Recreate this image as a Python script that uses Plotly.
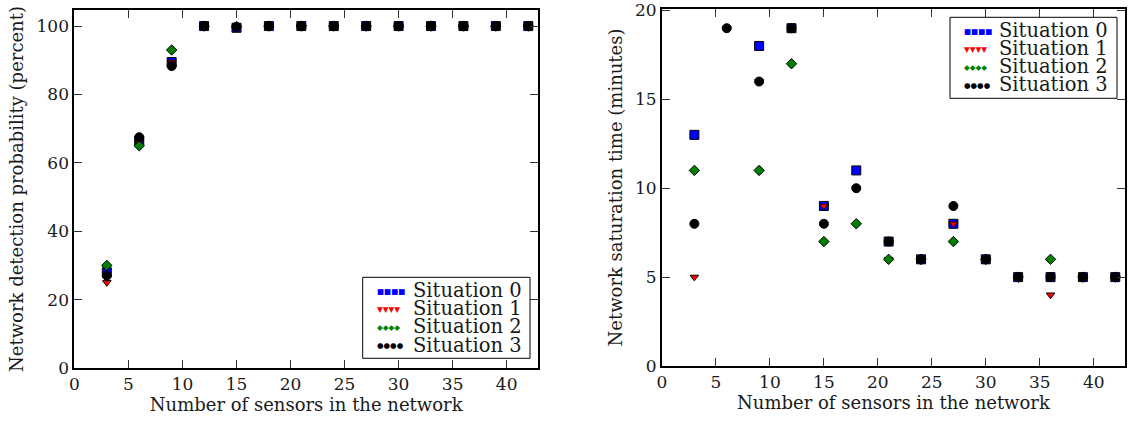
import plotly.graph_objects as go

sensors = [3, 6, 9, 12, 15, 18, 21, 24, 27, 30, 33, 36, 39, 42]

det_s0 = [28, 66.5, 89.5, 100, 99.5, 100, 100, 100, 100, 100, 100, 100, 100, 100]
det_s1 = [25, 66, 89.5, 100, 99.8, 100, 100, 100, 100, 100, 100, 100, 100, 100]
det_s2 = [30, 65, 93, 100, 99.8, 100, 100, 100, 100, 100, 100, 100, 100, 100]
det_s3 = [27, 67.5, 88.3, 100, 99.8, 100, 100, 100, 100, 100, 100, 100, 100, 100]

sat_s0 = [13, None, 18, 19, 9, 11, 7, 6, 8, 6, 5, 5, 5, 5]
sat_s1 = [5, 19, 16, 19, 9, 10, 6, 6, 8, 6, 5, 4, 5, 5]
sat_s2 = [11, None, 11, 17, 7, 8, 6, 6, 7, 6, 5, 6, 5, 5]
sat_s3 = [8, 19, 16, 19, 8, 10, 7, 6, 9, 6, 5, 5, 5, 5]

names = ["Situation 0", "Situation 1", "Situation 2", "Situation 3"]
colors = ["#0000ff", "#ff0000", "#008000", "#000000"]
symbols = ["square", "triangle-down", "diamond", "circle"]
sizes = [9, 7.5, 8, 9]
legend_glyphs = ["\u25A0", "\u25BC", "\u25C6", "\u25CF"]

FONT = "DejaVu Serif"
TXT = "#1a1a1a"

W, H = 1130, 423


def px(sx):
    return sx / W


def py(sy):
    return (H - sy) / H


fig = go.Figure()

for i, ys in enumerate([det_s0, det_s1, det_s2, det_s3]):
    fig.add_trace(go.Scatter(
        x=sensors, y=ys, mode="markers", name=names[i], showlegend=False,
        marker=dict(symbol=symbols[i], color=colors[i], size=sizes[i],
                    line=dict(color="black", width=1)),
        xaxis="x", yaxis="y",
    ))

for i, ys in enumerate([sat_s0, sat_s1, sat_s2, sat_s3]):
    fig.add_trace(go.Scatter(
        x=sensors, y=ys, mode="markers", name=names[i], showlegend=False,
        marker=dict(symbol=symbols[i], color=colors[i], size=sizes[i],
                    line=dict(color="black", width=1)),
        xaxis="x2", yaxis="y2",
    ))

axis_common = dict(
    showline=True, linecolor="black", linewidth=2, mirror="ticks",
    ticks="inside", ticklen=8, tickwidth=1, tickcolor="#333333",
    showgrid=False, zeroline=False, automargin=False,
    ticklabeloverflow="allow",
    tickfont=dict(family=FONT, size=17, color=TXT),
)
title_font = dict(family=FONT, size=18, color=TXT)

fig.update_layout(
    width=W, height=H,
    margin=dict(l=0, r=0, t=0, b=0),
    paper_bgcolor="white", plot_bgcolor="white",
    font=dict(family=FONT, size=17, color=TXT),
    showlegend=False,
    xaxis=dict(domain=[px(74.4), px(538)], range=[0, 42.9], dtick=5, tick0=0,
               title=dict(text="Number of sensors in the network", standoff=4,
                          font=title_font),
               anchor="y", **axis_common),
    yaxis=dict(domain=[py(368), py(10)], range=[0, 104.7], dtick=20, tick0=0,
               title=dict(text="Network detection probability (percent)", standoff=8,
                          font=title_font),
               anchor="x", **axis_common),
    xaxis2=dict(domain=[px(662), px(1125)], range=[0, 42.9], dtick=5, tick0=0,
                title=dict(text="Number of sensors in the network", standoff=4,
                           font=title_font),
                anchor="y2", **axis_common),
    yaxis2=dict(domain=[py(366), py(9)], range=[0, 20.08], dtick=5, tick0=0,
                title=dict(text="Network saturation time (minutes)", standoff=8,
                           font=title_font),
                anchor="x2", **axis_common),
)

# legend boxes drawn as in the original (four marker glyphs per entry)
legend_boxes = [
    dict(x0=362.7, x1=530, y0=277.3, y1=358.3, glyph_x=375.5, text_x=412),
    dict(x0=950, x1=1117, y0=17.3, y1=98.3, glyph_x=962.5, text_x=998),
]
row_pitch = 18.1
for box in legend_boxes:
    fig.add_shape(type="rect", xref="paper", yref="paper",
                  x0=px(box["x0"]), x1=px(box["x1"]),
                  y0=py(box["y1"]), y1=py(box["y0"]),
                  line=dict(color="black", width=1), fillcolor="white",
                  layer="above")
    for r in range(4):
        cy = box["y0"] + 13.4 + r * row_pitch
        fig.add_annotation(
            xref="paper", yref="paper", x=px(box["glyph_x"]), y=py(cy + 0.5),
            xanchor="left", yanchor="middle", showarrow=False,
            text=legend_glyphs[r] * 4,
            font=dict(family="DejaVu Sans", size=7.5, color=colors[r]),
            borderpad=0,
        )
        fig.add_annotation(
            xref="paper", yref="paper", x=px(box["text_x"]), y=py(cy),
            xanchor="left", yanchor="middle", showarrow=False,
            text=names[r],
            font=dict(family=FONT, size=19.5, color=TXT),
            borderpad=0,
        )

fig.write_html(
    "out.html",
    config={"displayModeBar": False},
    post_script="document.body.style.margin='0px';document.body.style.padding='0px';",
)
